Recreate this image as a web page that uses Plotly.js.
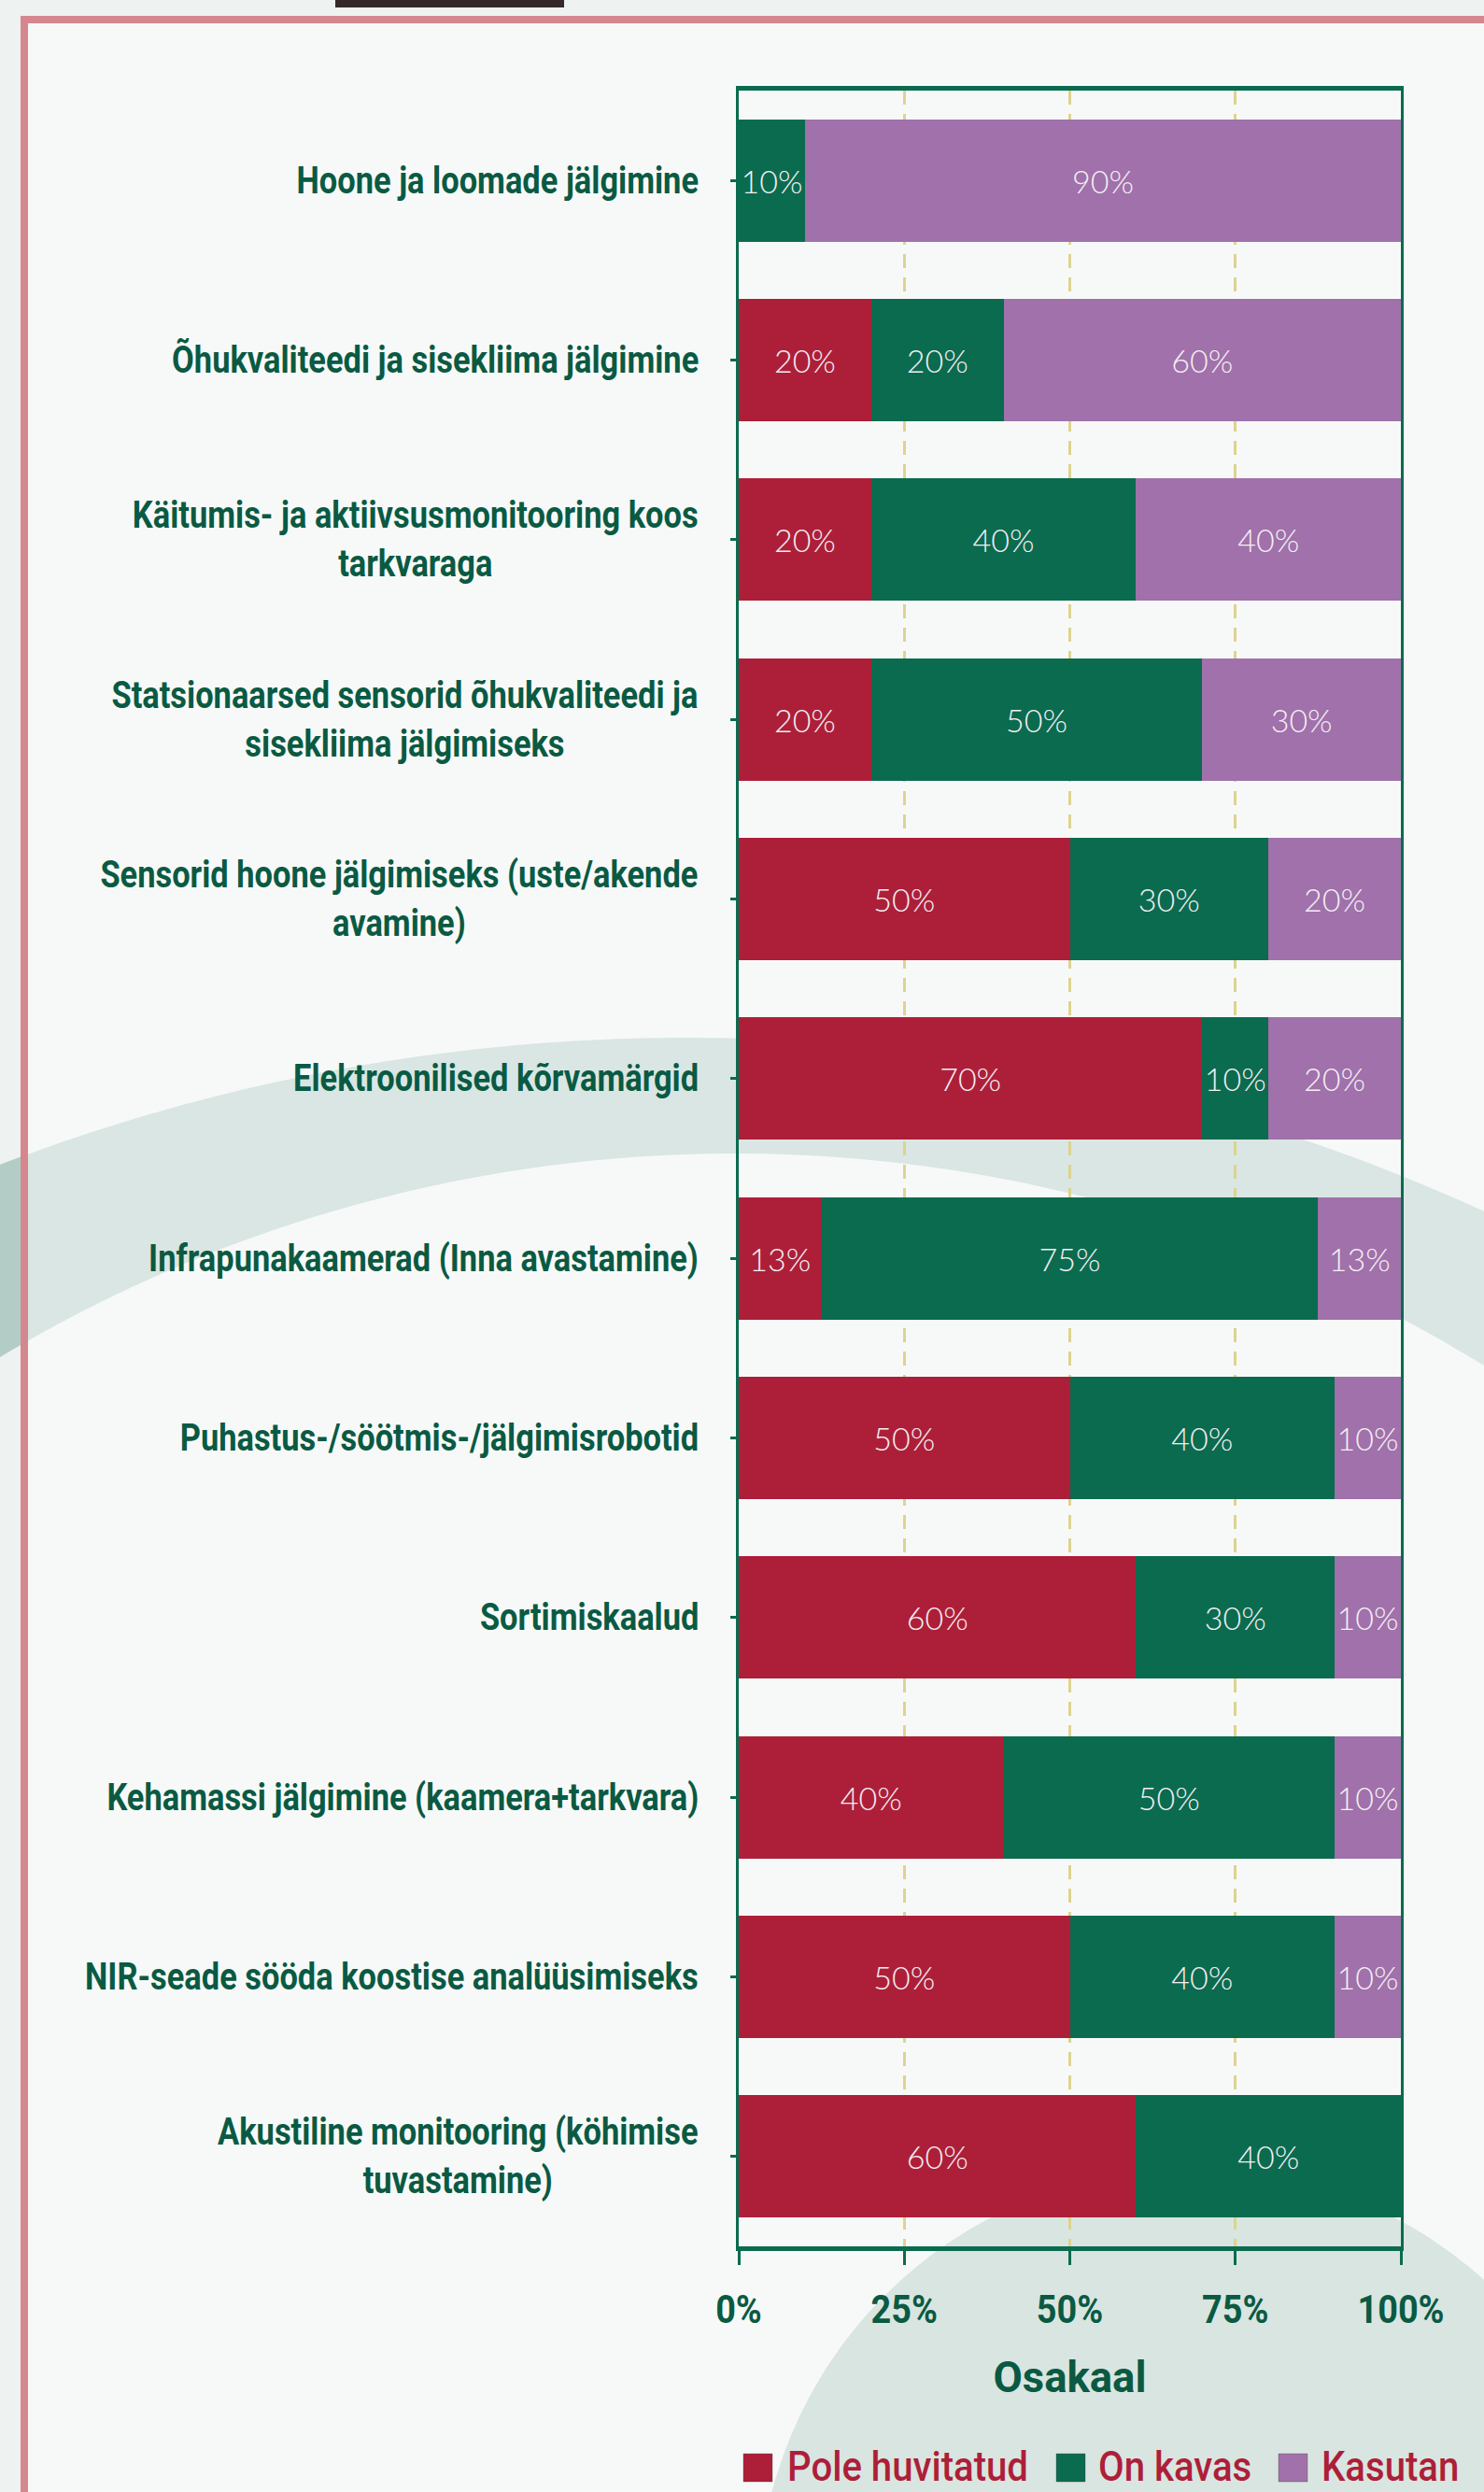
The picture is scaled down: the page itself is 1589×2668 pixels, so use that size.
<!DOCTYPE html>
<html>
<head>
<meta charset="utf-8">
<script src="https://cdn.plot.ly/plotly-3.0.1.min.js"></script>
<style>
  html, body { margin: 0; padding: 0; background: #eef2f1; }
  #chart { width: 1589px; height: 2668px; }
</style>
</head>
<body>
<div id="chart"></div>
<script>
// ---------------- DATA ----------------
const categories = [
  'Hoone ja loomade jälgimine',
  'Õhukvaliteedi ja sisekliima jälgimine',
  'Käitumis- ja aktiivsusmonitooring koos<br>tarkvaraga',
  'Statsionaarsed sensorid õhukvaliteedi ja<br>sisekliima jälgimiseks',
  'Sensorid hoone jälgimiseks (uste/akende<br>avamine)',
  'Elektroonilised kõrvamärgid',
  'Infrapunakaamerad (Inna avastamine)',
  'Puhastus-/söötmis-/jälgimisrobotid',
  'Sortimiskaalud',
  'Kehamassi jälgimine (kaamera+tarkvara)',
  'NIR-seade sööda koostise analüüsimiseks',
  'Akustiline monitooring (köhimise<br>tuvastamine)'
];
const poleHuvitatud = [0, 20, 20, 20, 50, 70, 12.5, 50, 60, 40, 50, 60];
const onKavas       = [10, 20, 40, 50, 30, 10, 75, 40, 30, 50, 40, 40];
const kasutan       = [90, 60, 40, 30, 20, 20, 12.5, 10, 10, 10, 10, 0];
const seriesNames   = ['Pole huvitatud', 'On kavas', 'Kasutan'];
const xTickVals     = [0, 25, 50, 75, 100];
const xTickText     = ['0%', '25%', '50%', '75%', '100%'];
const xAxisTitle    = 'Osakaal';

// ---------------- FONTS ----------------
const FAM = 'Roboto, "Liberation Sans", "DejaVu Sans", sans-serif';
const LIGHT = 'Lato, Roboto, sans-serif';
const cv = document.createElement('canvas');
const ctx = cv.getContext('2d');
function mw(font, txt) { ctx.font = font; return ctx.measureText(txt).width; }
function fitSize(txt, weight, fam, target) {
  return Math.max(20, Math.min(48, 40 * target / mw(weight + ' 40px ' + fam, txt)));
}
// condensed look: horizontal squeeze factors so widths match the reference
const LABEL_SIZE = 40, TICK_SIZE = 42, TITLE_SIZE = 46, LEG_SIZE = 44;
const clampS = v => Math.max(0.55, Math.min(1, v));
const sxLabel  = clampS(606 / mw('700 ' + LABEL_SIZE + 'px ' + FAM, 'Käitumis- ja aktiivsusmonitooring koos'));
const sxTick   = clampS(93 / mw('700 ' + TICK_SIZE + 'px ' + FAM, '100%'));
const sxTitle  = clampS(164 / mw('700 ' + TITLE_SIZE + 'px ' + FAM, xAxisTitle));
const sxLegend = clampS(258 / mw('500 ' + LEG_SIZE + 'px ' + FAM, 'Pole huvitatud'));
const barTxtSize = fitSize('20%', 300, LIGHT, 66);

// ---------------- STYLE ----------------
const COLORS = ['#ad1f39', '#0a6b4f', '#a071aa'];
const GREEN_TXT = '#0a5a43';
const AXIS_GREEN = '#0b6b4f';

const W = 1589, H = 2668;
const PL = 791, PR = 1500, PT = 97, PB = 2405;
const PW = PR - PL, PH = PB - PT;
const fx = px => (px - PL) / PW;
const fy = py => (PB - py) / PH;

const seriesValues = [poleHuvitatud, onKavas, kasutan];
const traces = seriesValues.map((vals, i) => ({
  type: 'bar',
  orientation: 'h',
  name: seriesNames[i],
  x: vals,
  y: categories,
  text: vals.map(v => v > 0 ? Math.round(v) + '%' : ''),
  textposition: 'inside',
  insidetextanchor: 'middle',
  textangle: 0,
  constraintext: 'none',
  textfont: { family: LIGHT, size: barTxtSize, color: '#f3eef3', weight: 300 },
  marker: { color: COLORS[i], line: { width: 0 } },
  showlegend: false,
  hoverinfo: 'skip',
  cliponaxis: true
}));

// ---------------- BACKGROUND DECORATION ----------------
function arcPts(cx, cy, r, x0, x1, step) {
  const pts = [];
  for (let x = x0; x <= x1; x += step) {
    const dx = x - cx;
    pts.push([x, cy - Math.sqrt(Math.max(r * r - dx * dx, 0))]);
  }
  return pts;
}
const outer = arcPts(735, 3167, 2056, -40, 1640, 10);
const inner = arcPts(787, 2765, 1530, -40, 1640, 10).reverse();
const bandPath = 'M' + outer.concat(inner).map(p => fx(p[0]).toFixed(5) + ',' + fy(p[1]).toFixed(5)).join('L') + 'Z';

const shapes = [
  { type: 'path', xref: 'paper', yref: 'paper', path: bandPath,
    fillcolor: '#b3cdc6', line: { width: 0 }, layer: 'below' },
  { type: 'rect', xref: 'paper', yref: 'paper',
    x0: fx(26), x1: fx(1700), y0: fy(21), y1: fy(2800),
    fillcolor: 'rgba(255,255,255,0.5)', line: { width: 0 }, layer: 'below' },
  { type: 'circle', xref: 'paper', yref: 'paper',
    x0: fx(1277 - 466), x1: fx(1277 + 466), y0: fy(2787 + 466), y1: fy(2787 - 466),
    fillcolor: '#d9e5e1', line: { width: 0 }, layer: 'below' },
  { type: 'rect', xref: 'paper', yref: 'paper',
    x0: fx(26), x1: fx(1700), y0: fy(21), y1: fy(2800),
    fillcolor: 'rgba(0,0,0,0)', line: { width: 8, color: '#d4878f' }, layer: 'below' },
  { type: 'rect', xref: 'paper', yref: 'paper',
    x0: fx(359), x1: fx(604), y0: fy(-5), y1: fy(8),
    fillcolor: '#352a28', line: { width: 0 }, layer: 'below' }
];

// custom legend with large squares
const legendItems = [
  { sx: 796, tx: 841 },
  { sx: 1131, tx: 1174 },
  { sx: 1369, tx: 1413 }
];
const LEG_Y = 2641;
legendItems.forEach((it, i) => {
  shapes.push({ type: 'rect', xref: 'paper', yref: 'paper',
    x0: fx(it.sx), x1: fx(it.sx + 31), y0: fy(LEG_Y + 16), y1: fy(LEG_Y - 14),
    fillcolor: COLORS[i], line: { width: 1, color: 'rgba(80,60,60,0.35)' }, layer: 'above' });
});

const annotations = [];
categories.forEach(c => {
  annotations.push({
    xref: 'paper', yref: 'y', x: fx(750), y: c,
    xanchor: 'right', yanchor: 'middle', align: 'center',
    text: c, showarrow: false,
    font: { family: FAM, size: LABEL_SIZE, color: GREEN_TXT, weight: 700 }
  });
});
seriesNames.forEach((n, i) => {
  annotations.push({
    xref: 'paper', yref: 'paper', x: fx(legendItems[i].tx), y: fy(LEG_Y),
    xanchor: 'left', yanchor: 'middle', text: n, showarrow: false,
    font: { family: FAM, size: LEG_SIZE, color: COLORS[0], weight: 500 }
  });
});

const layout = {
  width: W, height: H,
  margin: { l: PL, r: W - PR, t: PT, b: H - PB, pad: 0 },
  paper_bgcolor: '#eef2f1',
  plot_bgcolor: 'rgba(0,0,0,0)',
  barmode: 'stack',
  bargap: 0.32,
  showlegend: false,
  xaxis: {
    range: [0, 100],
    tickvals: xTickVals, ticktext: xTickText,
    showline: true, linecolor: AXIS_GREEN, linewidth: 5, mirror: true,
    ticks: 'outside', ticklen: 15, tickwidth: 3, tickcolor: AXIS_GREEN,
    showgrid: true, gridcolor: '#ddd38f', gridwidth: 3, griddash: '15px,10px',
    zeroline: false,
    tickfont: { family: FAM, size: TICK_SIZE, color: GREEN_TXT, weight: 700 },
    ticklabelstandoff: 12,
    title: { text: xAxisTitle, standoff: 34,
      font: { family: FAM, size: TITLE_SIZE, color: GREEN_TXT, weight: 700 } },
    automargin: false,
    fixedrange: true
  },
  yaxis: {
    type: 'category',
    autorange: 'reversed',
    showline: true, linecolor: AXIS_GREEN, linewidth: 3, mirror: true,
    ticks: 'outside', ticklen: 6, tickwidth: 3, tickcolor: AXIS_GREEN,
    showticklabels: false, showgrid: false, zeroline: false,
    automargin: false,
    fixedrange: true
  },
  shapes: shapes,
  annotations: annotations
};

function squeeze(el, sx, anchor) {
  if (!el || sx >= 0.999) return;
  let bb;
  try { bb = el.getBBox(); } catch (e) { return; }
  const px = anchor === 'end' ? bb.x + bb.width : anchor === 'start' ? bb.x : bb.x + bb.width / 2;
  const prev = el.getAttribute('transform') || '';
  el.setAttribute('transform', (prev + ' translate(' + px + ',0) scale(' + sx + ',1) translate(' + (-px) + ',0)').trim());
}

Plotly.newPlot('chart', traces, layout, { displayModeBar: false, staticPlot: true }).then(gd => {
  gd.querySelectorAll('g.annotation').forEach(g => {
    const idx = +g.getAttribute('data-index');
    const t = g.querySelector('text.annotation-text');
    if (idx < categories.length) squeeze(t, sxLabel, 'end');
    else squeeze(t, sxLegend, 'start');
  });
  gd.querySelectorAll('g.xtick text').forEach(t => squeeze(t, sxTick, 'middle'));
  squeeze(gd.querySelector('.g-xtitle text'), sxTitle, 'middle');
});
</script>
</body>
</html>
